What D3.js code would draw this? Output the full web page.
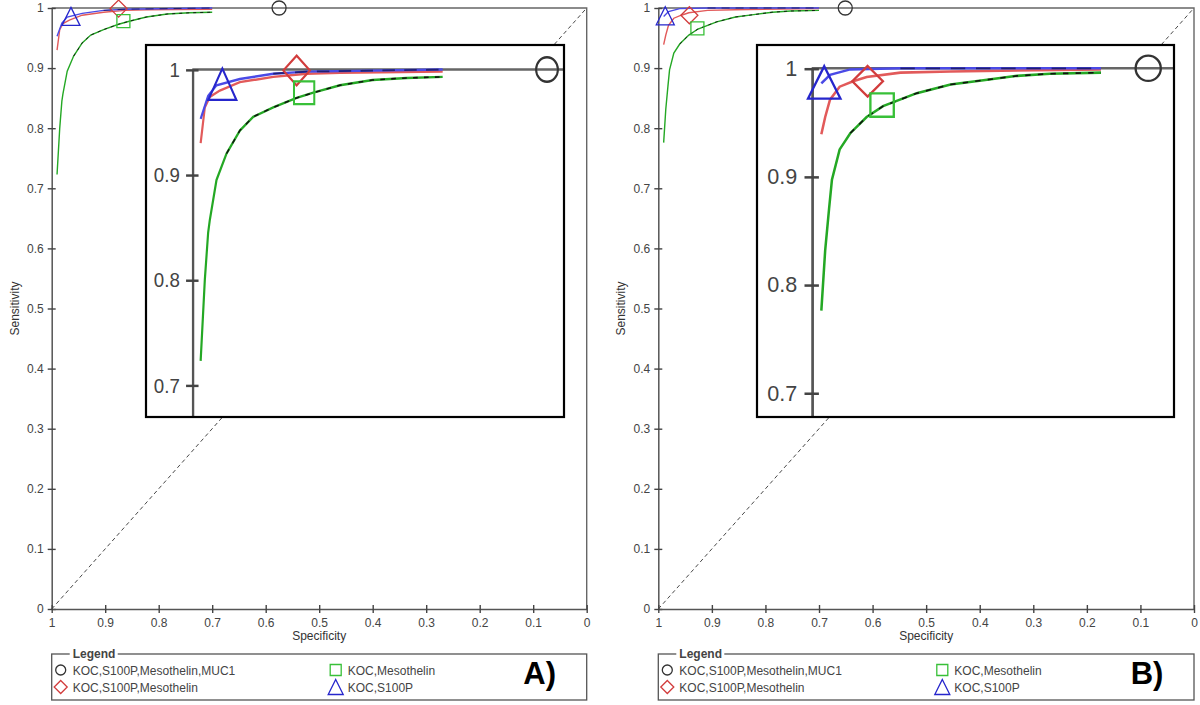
<!DOCTYPE html>
<html>
<head>
<meta charset="utf-8">
<script src="https://cdn.jsdelivr.net/npm/d3@7"></script>
<style>
  body { margin: 0; background: #fff; }
  svg { display: block; font-family: "Liberation Sans", Arial, sans-serif; }
</style>
</head>
<body>
<script>
// tick values for both axes
var specTicks = [1, 0.9, 0.8, 0.7, 0.6, 0.5, 0.4, 0.3, 0.2, 0.1, 0];
var sensTicks = [0, 0.1, 0.2, 0.3, 0.4, 0.5, 0.6, 0.7, 0.8, 0.9, 1];
var insetSensTicks = [0.7, 0.8, 0.9, 1];

var seriesNames = ["KOC,S100P,Mesothelin,MUC1", "KOC,S100P,Mesothelin", "KOC,Mesothelin", "KOC,S100P"];
var seriesShapes = ["circle", "diamond", "square", "triangle"];
var panelLabels = ["A)", "B)"];

// panel A curves, [specificity, sensitivity]
var aGreen = [[0.990,0.723],[0.985,0.800],[0.981,0.845],[0.979,0.857],[0.971,0.895],[0.959,0.920],[0.943,0.942],[0.927,0.955],[0.903,0.964],[0.875,0.973],[0.855,0.978],[0.823,0.985],[0.784,0.990],[0.743,0.992],[0.700,0.993]];
var aRed = [[0.990,0.930],[0.985,0.964],[0.979,0.974],[0.967,0.980],[0.943,0.988],[0.903,0.993],[0.863,0.996],[0.823,0.997],[0.700,0.998]];
var aBlue = [[0.990,0.953],[0.981,0.975],[0.971,0.985],[0.943,0.991],[0.903,0.996],[0.863,0.998],[0.700,1.000]];
// marker points: circle, diamond, square, triangle
var aMarkSpec = [0.575, 0.875, 0.866, 0.964];
var aMarkSens = [1.000, 0.999, 0.978, 0.986];

// panel B curves
var bGreen = [[0.990,0.776],[0.986,0.832],[0.982,0.870],[0.979,0.897],[0.971,0.925],[0.960,0.940],[0.943,0.955],[0.926,0.965],[0.891,0.977],[0.856,0.985],[0.822,0.989],[0.787,0.993],[0.753,0.995],[0.700,0.996]];
var bRed = [[0.990,0.939],[0.986,0.955],[0.981,0.971],[0.971,0.983],[0.957,0.988],[0.943,0.992],[0.908,0.996],[0.856,0.997],[0.700,0.999]];
var bBlue = [[0.990,0.986],[0.981,0.994],[0.960,0.999],[0.908,1.000],[0.700,1.000]];
var bMarkSpec = [0.651, 0.942, 0.927, 0.987];
var bMarkSens = [1.000, 0.988, 0.966, 0.987];

var markStroke = ["#333333", "#d23c3c", "#38c038", "#2626cc"];
var lineColor = {green: "#24a824", red: "#e25a5a", blue: "#4a4ae6"};

var svg = d3.select("body").append("svg")
    .attr("width", 1200)
    .attr("height", 705);

function shapePath(shape, s){
    if (shape == "circle") return "M" + s + ",0A" + s + "," + s + " 0 1,1 " + (-s) + ",0A" + s + "," + s + " 0 1,1 " + s + ",0Z";
    if (shape == "diamond") return "M0," + (-s) + "L" + s + ",0L0," + s + "L" + (-s) + ",0Z";
    if (shape == "square") return "M" + (-s) + "," + (-s) + "H" + s + "V" + s + "H" + (-s) + "Z";
    return "M0," + (-s) + "L" + s + "," + s + "L" + (-s) + "," + s + "Z";
}
var markSize = {circle: 7, diamond: 8.5, square: 6.5, triangle: 9};
var legSize = {circle: 5, diamond: 6.5, square: 5.5, triangle: 7.5};

// everything that lives in the plot area (drawn twice: main + magnified inset)
function drawContent(g, x, y, p, inset){
    var line = d3.line()
        .x(function(d){ return x(d[0]); })
        .y(function(d){ return y(d[1]); });

    if (!inset) {
        // chance diagonal
        g.append("line")
            .attr("x1", x(1)).attr("y1", y(0))
            .attr("x2", x(0)).attr("y2", y(1))
            .attr("stroke", "#333").attr("stroke-width", 0.9)
            .attr("stroke-dasharray", "4,3");
    }

    // frame top + right
    g.append("path")
        .attr("d", "M" + x(1) + "," + y(1) + "H" + x(0) + "V" + y(0))
        .attr("fill", "none").attr("stroke", "#666").attr("stroke-width", 1.4);

    var axes = [];
    var yAxis = g.append("g")
        .attr("transform", "translate(" + x(1) + ",0)")
        .call(d3.axisLeft(y).tickValues(inset ? insetSensTicks : sensTicks).tickSize(4).tickSizeOuter(0).tickPadding(4)
            .tickFormat(function(d){ return String(d); }));
    yAxis.selectAll(".tick line").attr("x2", -4).attr("x1", 4);
    axes.push(yAxis);
    if (!inset) {
        var xAxis = g.append("g")
            .attr("transform", "translate(0," + y(0) + ")")
            .call(d3.axisBottom(x).tickValues(specTicks).tickSize(4).tickSizeOuter(0).tickPadding(5)
                .tickFormat(function(d){ return String(d); }));
        xAxis.selectAll(".tick line").attr("y1", -4).attr("y2", 4);
        axes.push(xAxis);
    }
    axes.forEach(function(a){
        a.attr("font-family", null).attr("font-size", 12);
        a.select(".domain").attr("stroke", "#555").attr("stroke-width", 1.5);
        a.selectAll(".tick line").attr("stroke", "#444").attr("stroke-width", 1.4);
        a.selectAll(".tick text").attr("fill", "#444");
    });

    // curves
    g.append("path").datum(p.green).attr("d", line)
        .attr("fill", "none").attr("stroke", lineColor.green).attr("stroke-width", 1.4);
    g.append("path").datum(p.green.filter(function(d){ return d[0] <= 0.96; })).attr("d", line)
        .attr("fill", "none").attr("stroke", "#111").attr("stroke-width", 0.9)
        .attr("stroke-dasharray", "3,4");
    g.append("path").datum(p.red).attr("d", line)
        .attr("fill", "none").attr("stroke", lineColor.red).attr("stroke-width", 1.4);
    g.append("path").datum(p.blue).attr("d", line)
        .attr("fill", "none").attr("stroke", lineColor.blue).attr("stroke-width", 1.4);
    g.append("path").datum(p.blue.filter(function(d){ return d[0] <= 0.91; })).attr("d", line)
        .attr("fill", "none").attr("stroke", "#14145a").attr("stroke-width", 1)
        .attr("stroke-dasharray", "8,6").attr("opacity", 0.8);

    // markers
    g.selectAll(".marker")
        .data(seriesShapes)
        .enter()
        .append("path")
        .attr("class", "marker")
        .attr("transform", function(d, i){
            return "translate(" + x(p.markSpec[i]) + "," + y(p.markSens[i]) + ")";
        })
        .attr("d", function(d){ return shapePath(d, markSize[d]); })
        .attr("fill", "none")
        .attr("stroke", function(d, i){ return markStroke[i]; })
        .attr("stroke-width", 1.3);
}

function drawPanel(p){
    var x = d3.scaleLinear().domain([1, 0]).range([p.left, p.right]);
    var y = d3.scaleLinear().domain([0, 1]).range([609, 8]);
    var g = svg.append("g");

    drawContent(g, x, y, p, false);

    // axis titles
    g.append("text")
        .attr("x", (p.left + p.right) / 2).attr("y", 640)
        .attr("text-anchor", "middle").attr("font-size", 12).attr("fill", "#333")
        .text("Specificity");
    g.append("text")
        .attr("transform", "translate(" + (p.left - 33) + "," + y(0.5) + ") rotate(-90)")
        .attr("text-anchor", "middle").attr("font-size", 12).attr("fill", "#333")
        .text("Sensitivity");

    // magnified inset
    var b = p.inset;
    var clipId = "clip" + p.id;
    svg.append("clipPath").attr("id", clipId)
        .append("rect").attr("x", b.x0).attr("y", b.y0)
        .attr("width", b.x1 - b.x0).attr("height", b.y1 - b.y0);
    var ig = g.append("g").attr("clip-path", "url(#" + clipId + ")");
    ig.append("rect").attr("x", b.x0).attr("y", b.y0)
        .attr("width", b.x1 - b.x0).attr("height", b.y1 - b.y0)
        .attr("fill", "#fff");
    var inner = ig.append("g")
        .attr("transform", "translate(" + (b.ax - b.sx * x(1)) + "," + (b.ay - b.sy * y(1)) + ") scale(" + b.sx + "," + b.sy + ")");
    drawContent(inner, x, y, p, true);
    g.append("rect").attr("x", b.x0).attr("y", b.y0)
        .attr("width", b.x1 - b.x0).attr("height", b.y1 - b.y0)
        .attr("fill", "none").attr("stroke", "#000").attr("stroke-width", 2.2);

    // legend
    var lg = g.append("g");
    lg.append("rect")
        .attr("x", p.left).attr("y", 654)
        .attr("width", p.right - p.left).attr("height", 46)
        .attr("fill", "none").attr("stroke", "#555").attr("stroke-width", 1.3);
    lg.append("rect")
        .attr("x", p.left + 18).attr("y", 646).attr("width", 48).attr("height", 14)
        .attr("fill", "#fff");
    lg.append("text")
        .attr("x", p.left + 21).attr("y", 658)
        .attr("font-size", 12).attr("font-weight", "bold").attr("fill", "#444")
        .text("Legend");
    var items = lg.selectAll(".leg")
        .data(seriesNames)
        .enter()
        .append("g")
        .attr("class", "leg")
        .attr("transform", function(d, i){
            var col = (i == 0 || i == 1) ? 0 : 1;
            var row = (i == 0 || i == 2) ? 0 : 1;
            return "translate(" + (p.left + 9 + col * 275) + "," + (670 + row * 17) + ")";
        });
    items.append("path")
        .attr("d", function(d, i){ return shapePath(seriesShapes[i], legSize[seriesShapes[i]]); })
        .attr("fill", "none")
        .attr("stroke", function(d, i){ return markStroke[i]; })
        .attr("stroke-width", 1.3);
    items.append("text")
        .attr("x", 12).attr("y", 4.5)
        .attr("font-size", 12).attr("fill", "#444")
        .text(function(d){ return d; });

    g.append("text")
        .attr("x", p.right - 47).attr("y", 684)
        .attr("text-anchor", "middle")
        .attr("font-size", 31).attr("font-weight", "bold").attr("fill", "#000")
        .text(p.label);
}

drawPanel({
    id: "A", label: panelLabels[0], left: 51.7, right: 586.7,
    green: aGreen, red: aRed, blue: aBlue, markSpec: aMarkSpec, markSens: aMarkSens,
    inset: {x0: 146, y0: 45, x1: 564, y1: 417, ax: 192.3, ay: 69.5, sx: 1.56, sy: 1.75}
});
drawPanel({
    id: "B", label: panelLabels[1], left: 658.3, right: 1194,
    green: bGreen, red: bRed, blue: bBlue, markSpec: bMarkSpec, markSens: bMarkSens,
    inset: {x0: 757, y0: 45, x1: 1174, y1: 417, ax: 811.7, ay: 68.3, sx: 1.8, sy: 1.8}
});
</script>
</body>
</html>
